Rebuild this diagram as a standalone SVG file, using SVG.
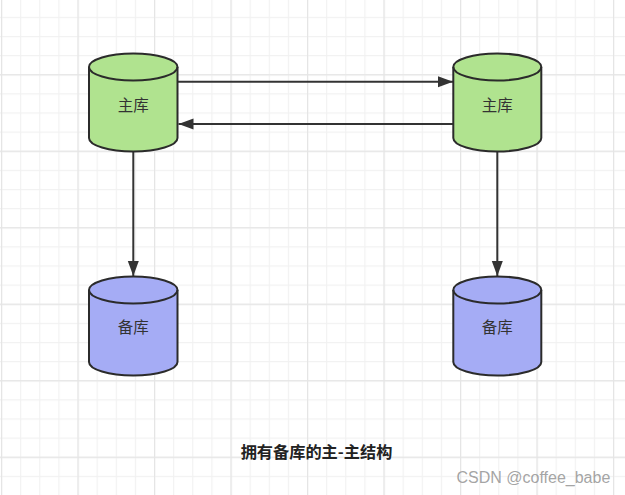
<svg xmlns="http://www.w3.org/2000/svg" width="625" height="495" viewBox="0 0 625 495">
<defs>
<pattern id="minor" patternUnits="userSpaceOnUse" x="1" y="-2.3" width="19.125" height="19.125">
<path d="M0 0.5H19.125M0.5 0V19.125" fill="none" stroke="#f1f1f1" stroke-width="1.2"/>
</pattern>
<pattern id="major" patternUnits="userSpaceOnUse" x="1" y="-2.3" width="76.5" height="76.5">
<path d="M0 0.5H76.5M0.5 0V76.5" fill="none" stroke="#e5e5e5" stroke-width="1.4"/>
</pattern>
<marker id="arr" markerWidth="16" markerHeight="12" refX="15" refY="6" orient="auto" markerUnits="userSpaceOnUse">
<path d="M0 0.5L15 6L0 11.5Z" fill="#333"/>
</marker>
<style>
.cyl{stroke:#2b2b2b;stroke-width:2}
.g{fill:#b0e38f}
.b{fill:#a5acf5}
.lbl{font-family:"Noto Sans CJK SC",sans-serif;font-size:15.5px;fill:#333;text-anchor:middle;dominant-baseline:central}
.edge{fill:none;stroke:#333;stroke-width:2;marker-end:url(#arr)}
</style>
</defs>
<rect width="625" height="495" fill="#fff"/>
<rect width="625" height="495" fill="url(#minor)"/>
<rect width="625" height="495" fill="url(#major)"/>

<g id="connectors">
<path class="edge" d="M178 81.7H453"/>
<path class="edge" d="M453 124H178.5"/>
<path class="edge" d="M133.3 152V276"/>
<path class="edge" d="M497.3 152V276"/>
</g>

<g id="master1">
<path class="cyl g" d="M89 67A44.25 13.5 0 0 1 177.5 67V138A44.25 13.5 0 0 1 89 138Z"/>
<path class="cyl" fill="none" d="M89 67A44.25 13.5 0 0 0 177.5 67"/>
<text class="lbl" x="133.3" y="103.5">主库</text>
</g>
<g id="master2">
<path class="cyl g" d="M453.3 67A44 13.5 0 0 1 541.3 67V138A44 13.5 0 0 1 453.3 138Z"/>
<path class="cyl" fill="none" d="M453.3 67A44 13.5 0 0 0 541.3 67"/>
<text class="lbl" x="497.3" y="103.5">主库</text>
</g>
<g id="slave1">
<path class="cyl b" d="M89 290A44.25 13.5 0 0 1 177.5 290V362A44.25 13.5 0 0 1 89 362Z"/>
<path class="cyl" fill="none" d="M89 290A44.25 13.5 0 0 0 177.5 290"/>
<text class="lbl" x="133.3" y="326">备库</text>
</g>
<g id="slave2">
<path class="cyl b" d="M453.3 290A44 13.5 0 0 1 541.3 290V362A44 13.5 0 0 1 453.3 362Z"/>
<path class="cyl" fill="none" d="M453.3 290A44 13.5 0 0 0 541.3 290"/>
<text class="lbl" x="497.3" y="326">备库</text>
</g>

<g id="title">
<text x="316.5" y="451" font-family="'Noto Sans CJK SC',sans-serif" font-size="16.2" font-weight="bold" fill="#222" text-anchor="middle" dominant-baseline="central">拥有备库的主-主结构</text>
</g>
<text x="456.5" y="483" font-family="'Liberation Sans',Arial,sans-serif" font-size="16" fill="#999" fill-opacity="0.9">CSDN @coffee_babe</text>
</svg>
